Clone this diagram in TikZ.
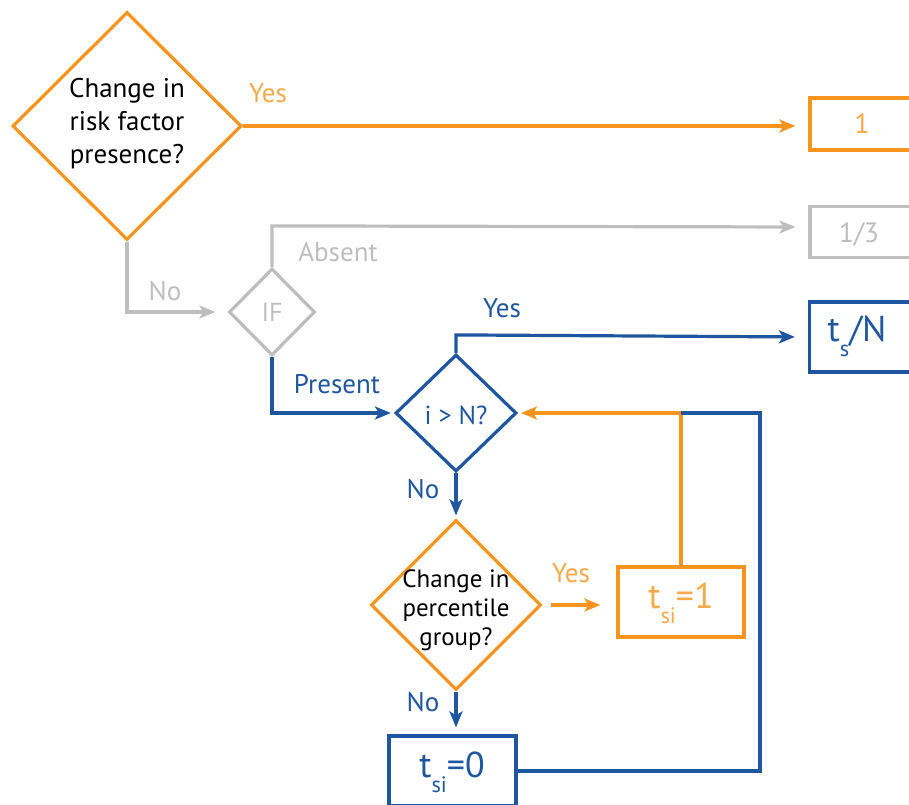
\documentclass[tikz,border=0pt]{standalone}
\usepackage{fontspec}
\setmainfont{PT Sans}
\usetikzlibrary{shapes.geometric,arrows.meta}
\definecolor{rforange}{HTML}{F7941D}
\definecolor{rforangetxt}{HTML}{F9A947}
\definecolor{rfblue}{HTML}{1E56A0}
\definecolor{rfgray}{HTML}{BEBEBE}
\newcommand{\lowsub}[1]{\raisebox{-0.42em}{\scalebox{0.62}{#1}}}
\begin{document}
\begin{tikzpicture}[x=1pt,y=-1pt,
	dec/.style={diamond,draw,line width=3.2pt,inner sep=0pt,aspect=1},
	res/.style={rectangle,draw,line width=3.2pt,inner sep=0pt},
	flow/.style={line width=3.2pt,-{Stealth[length=16pt,width=13pt,inset=4pt]}},
	lbl/.style={font=\fontsize{27}{30}\selectfont},
	qtxt/.style={align=center,text=black}]
	\useasboundingbox (0,0) rectangle (909,804);
	\clip (0,0) rectangle (909,804);
	\node[dec,rforange,minimum width=229pt,minimum height=228pt] (d1) at (127,126) {};
	\node[qtxt,font=\fontsize{27}{33}\selectfont] (t1) at (127,124) {Change in\\risk factor\\presence?};
	\node[dec,rfgray,minimum width=86pt,minimum height=87pt] (dif) at (272,312) {};
	\node[text=rfgray,font=\fontsize{26}{30}\selectfont] (tif) at (dif) {IF};
	\node[dec,rfblue,minimum width=121pt,minimum height=117pt] (d2) at (456,413) {};
	\node[text=rfblue,font=\fontsize{26}{30}\selectfont] (t2) at (456,415) {i > N?};
	\node[dec,rforange,minimum width=170pt,minimum height=170pt] (d3) at (456,605) {};
	\node[qtxt,font=\fontsize{25}{29}\selectfont] (t3) at (456,610) {Change in\\percentile\\group?};
	\node[res,rforange,minimum width=104pt,minimum height=52pt] (one) at (862,124) {};
	\node[text=rforangetxt,font=\fontsize{28}{32}\selectfont] (tone) at (862,124) {1};
	\node[res,rfgray,minimum width=104pt,minimum height=51pt] (third) at (862,232) {};
	\node[text=rfgray,font=\fontsize{28}{32}\selectfont] (tthird) at (859,234) {1/3};
	\node[res,rfblue,minimum width=103pt,minimum height=70pt] (tsn) at (861,337) {};
	\node[text=rfblue,font=\fontsize{36}{40}\selectfont] (ttsn) at (857,336) {t\lowsub{s}/N};
	\node[res,rforange,minimum width=126pt,minimum height=70pt] (tsione) at (681,602) {};
	\node[text=rforangetxt,font=\fontsize{36}{40}\selectfont] (ttsione) at (681,603) {t\lowsub{si}=1};
	\node[res,rfblue,minimum width=127pt,minimum height=70pt] (tsizero) at (452.5,771) {};
	\node[text=rfblue,font=\fontsize{36}{40}\selectfont] (ttsizero) at (452,772) {t\lowsub{si}=0};
	\coordinate (rt) at (760,413);
	\coordinate (join) at (tsione.north |- d2.east);
	\draw[flow,rforange,shorten >=13pt] (d1.east) -- (one.west |- d1.east);
	\draw[flow,rfgray,shorten >=12pt] (d1.south) |- (dif.west);
	\draw[flow,rfgray,shorten >=13pt] (dif.north) -- ++(0,-41) -- (third.west |- 0,227);
	\draw[flow,rfblue,shorten >=3pt] (dif.south) |- (d2.west);
	\draw[flow,rfblue,shorten >=13pt] (d2.north) -- ++(0,-18) -- (tsn.west);
	\draw[flow,rfblue,shorten >=3pt] (d2.south) -- (d3.north);
	\draw[flow,rforange,shorten <=8pt,shorten >=16pt] (d3.east) -- (tsione.west |- d3.east);
	\draw[flow,rforange,shorten >=3pt] (tsione.north) -- (join) -- (d2.east);
	\draw[flow,rfblue,shorten >=7pt] (d3.south) -- (d3.south |- tsizero.north);
	\draw[line width=3.2pt,rfblue] (tsizero.east) -| (rt) -- (join);
	\node[lbl,text=rforangetxt] (yes1) at (268,93) {Yes};
	\node[lbl,text=rfgray] (no1) at (165,291) {No};
	\node[lbl,text=rfgray] (absent) at (338,252) {Absent};
	\node[lbl,text=rfblue] (present) at (337,384) {Present};
	\node[lbl,text=rfblue] (yes2) at (502,308) {Yes};
	\node[lbl,text=rfblue] (no2) at (423,489) {No};
	\node[lbl,text=rforangetxt] (yes3) at (571,573) {Yes};
	\node[lbl,text=rfblue] (no3) at (423,702) {No};
\end{tikzpicture}
\end{document}
